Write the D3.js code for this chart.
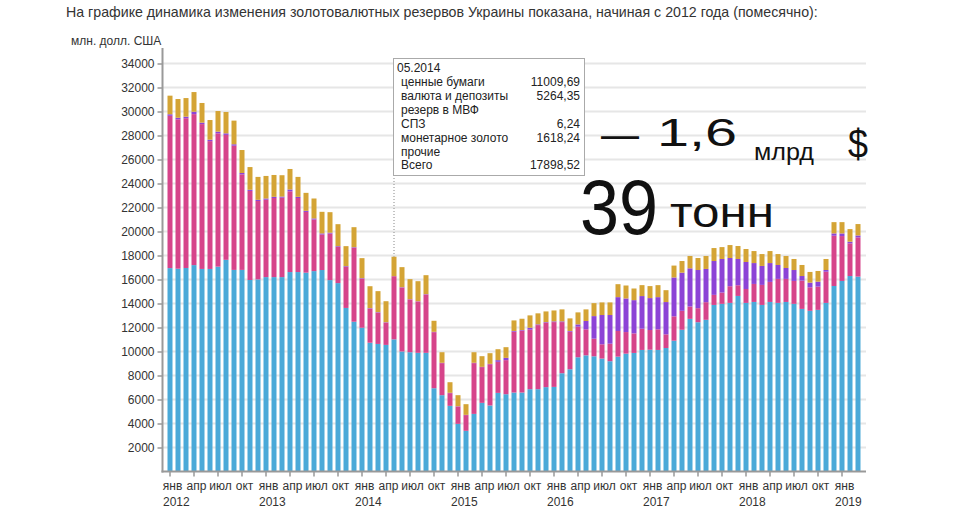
<!DOCTYPE html>
<html><head><meta charset="utf-8">
<script src="https://cdn.jsdelivr.net/npm/d3@7"></script>
<style>
body{margin:0;background:#fff}
svg{display:block}
text{font-family:"Liberation Sans",Arial,Helvetica,sans-serif}
</style>
</head><body>
<svg id="c" width="955" height="520"></svg>
<script>
// ---- data (млн. долл. США, помесячно) ----
const months = [
 "01.2012","02.2012","03.2012","04.2012","05.2012","06.2012","07.2012","08.2012","09.2012","10.2012","11.2012","12.2012",
 "01.2013","02.2013","03.2013","04.2013","05.2013","06.2013","07.2013","08.2013","09.2013","10.2013","11.2013","12.2013",
 "01.2014","02.2014","03.2014","04.2014","05.2014","06.2014","07.2014","08.2014","09.2014","10.2014","11.2014","12.2014",
 "01.2015","02.2015","03.2015","04.2015","05.2015","06.2015","07.2015","08.2015","09.2015","10.2015","11.2015","12.2015",
 "01.2016","02.2016","03.2016","04.2016","05.2016","06.2016","07.2016","08.2016","09.2016","10.2016","11.2016","12.2016",
 "01.2017","02.2017","03.2017","04.2017","05.2017","06.2017","07.2017","08.2017","09.2017","10.2017","11.2017","12.2017",
 "01.2018","02.2018","03.2018","04.2018","05.2018","06.2018","07.2018","08.2018","09.2018","10.2018","11.2018","12.2018",
 "01.2019","02.2019","03.2019"];
const securities = [
 16950,16900,16960,17200,16880,16880,17070,17640,16800,16800,15960,16010,
 16200,16200,16200,16620,16620,16570,16700,16790,15950,15700,13630,12480,
 11980,10730,10630,10550,11009.69,10000,9940,9890,9890,6940,6360,5470,
 3970,3390,4800,5720,5500,6550,6440,6580,6580,6860,6860,7030,
 7050,8190,8520,9520,9680,9600,9410,9190,9570,9820,9880,10130,
 10150,10130,10290,10900,11810,12720,12440,12640,13880,13970,14050,14630,
 14050,14130,13880,14130,14050,14130,13970,13550,13390,13470,14050,15460,
 15880,16290,16240];
const deposits = [
 12690,12450,12480,12580,12070,10650,11110,10410,10350,7960,7420,6530,
 6450,6590,6620,6730,6170,5060,4300,2960,3880,3020,3420,6160,
 4080,2840,2610,1860,5264.35,5330,4400,4280,4860,4670,2670,1060,
 1450,1310,4230,2980,3440,2590,2840,5070,5160,4960,5340,5370,
 5400,4260,3130,2550,2170,1470,1190,1460,2140,1800,1630,1770,
 1640,1720,1140,2030,1580,1030,1170,1470,840,940,1390,890,
 1160,1500,1670,1670,2000,1920,1910,2360,1960,1940,2600,4190,
 3740,2720,3270];
const sdr = [
 130,130,130,200,120,120,140,130,120,115,100,100,
 100,100,90,150,100,90,90,90,70,60,60,50,
 50,40,40,30,6.24,30,20,20,30,30,30,30,
 20,20,30,20,30,140,190,60,50,160,60,50,
 60,60,60,190,690,1880,2440,2390,2820,2800,2770,2720,
 2660,2680,2690,3240,3180,3180,3180,2770,2820,2800,2350,2190,
 2250,1740,1580,1570,1160,910,910,380,390,410,140,190,
 220,140,160];
const gold = [
 1550,1560,1550,1640,1640,1640,1720,1780,1970,1915,1890,1910,
 1880,1820,1780,1710,1660,1500,1660,1800,1710,1830,1670,1670,
 1670,1830,1750,1750,1618.24,1670,1670,1670,1580,920,880,880,
 920,890,880,890,890,910,890,880,940,1030,920,890,
 910,1000,1050,1000,970,1080,1050,1050,1080,1080,970,910,
 1000,1000,990,990,970,1030,1000,1080,1080,990,1080,1080,
 1080,1000,990,1000,910,1000,920,920,890,890,920,940,
 940,1050,950];

const seriesKeys = ["securities","deposits","sdr","gold"];
const seriesColors = ["#4aa9d8","#d6448a","#8c43d6","#d4a435"];
const yTicks = [2000,4000,6000,8000,10000,12000,14000,16000,18000,20000,22000,24000,26000,28000,30000,32000,34000];
const monthTickLabels = {"01":"янв","04":"апр","07":"июл","10":"окт"};
const yearLabels = ["2012","2013","2014","2015","2016","2017","2018","2019"];
const titleText = "На графике динамика изменения золотовалютных резервов Украины показана, начиная с 2012 года (помесячно):";
const unitText = "млн. долл. США";
const tooltipMonth = "05.2014";
const tooltipRows = ["ценные бумаги","валюта и депозиты","резерв в МВФ","СПЗ","монетарное золото","прочие","Всего"];
const tooltipKeys = ["securities","deposits",null,"sdr","gold",null,"total"];

// ---- build ----
const rows = months.map((m,i)=>({month:m,securities:securities[i],deposits:deposits[i],sdr:sdr[i],gold:gold[i]}));
rows.forEach(r=>{r.total=r.securities+r.deposits+r.sdr+r.gold;});

const svg = d3.select("#c");
svg.append("rect").attr("width",955).attr("height",520).attr("fill","#fff");

const x = d3.scaleBand().domain(months).range([166,862]).paddingInner(0.375).paddingOuter(0.1875);
const y = d3.scaleLinear().domain([0,34000]).range([471.5,63.5]);

// title
svg.append("text").attr("x",66).attr("y",17).attr("font-size",14.2).attr("fill","#333").text(titleText);
svg.append("text").attr("x",71).attr("y",45).attr("font-size",12).attr("fill","#333").text(unitText);

// grid
svg.append("g").selectAll("line").data(yTicks).join("line")
  .attr("x1",163).attr("x2",866).attr("y1",d=>y(d)).attr("y2",d=>y(d))
  .attr("stroke","#e6e6e6").attr("stroke-width",2);

// bars
const stack = d3.stack().keys(seriesKeys)(rows);
svg.append("g").selectAll("g").data(stack).join("g")
  .attr("fill",(d,i)=>seriesColors[i])
  .selectAll("rect").data(d=>d).join("rect")
  .attr("x",d=>x(d.data.month)).attr("width",x.bandwidth())
  .attr("y",d=>y(d[1])).attr("height",d=>y(d[0])-y(d[1]));

// y axis
const yAxis = svg.append("g").attr("transform","translate(162.5,0)")
  .call(d3.axisLeft(y).tickValues(yTicks).tickSize(5).tickPadding(3).tickFormat(d3.format("d")));
yAxis.select(".domain").remove();
yAxis.selectAll(".tick line").attr("stroke","#999").attr("stroke-width",1.5);
yAxis.selectAll("text").attr("font-size",12).attr("fill","#333").attr("font-family","Liberation Sans, Arial, sans-serif");
svg.append("line").attr("x1",162.5).attr("x2",162.5).attr("y1",48).attr("y2",472.5).attr("stroke","#999").attr("stroke-width",2);

// x axis
const quarterMonths = months.filter(m=>monthTickLabels[m.slice(0,2)]);
const xAxis = svg.append("g").attr("transform","translate(0,471.5)")
  .call(d3.axisBottom(x).tickValues(quarterMonths).tickSize(5).tickFormat(""));
xAxis.select(".domain").remove();
xAxis.selectAll(".tick line").attr("stroke","#999").attr("stroke-width",1.5);
svg.append("line").attr("x1",161.5).attr("x2",866).attr("y1",471.5).attr("y2",471.5).attr("stroke","#999").attr("stroke-width",2);

const cx = m=>x(m)+x.bandwidth()/2;
svg.append("g").selectAll("text").data(quarterMonths).join("text")
  .attr("x",d=>cx(d)+2.5).attr("y",490).attr("text-anchor","middle")
  .attr("font-size",12).attr("fill","#333").text(d=>monthTickLabels[d.slice(0,2)]);
svg.append("g").selectAll("text").data(yearLabels).join("text")
  .attr("x",d=>cx("01."+d)-7).attr("y",506).attr("text-anchor","start")
  .attr("font-size",12).attr("fill","#333").text(d=>d);

// tooltip (static, as in picture)
const tRow = rows.find(r=>r.month===tooltipMonth);
const tx = cx(tooltipMonth);
svg.append("line").attr("x1",tx).attr("x2",tx).attr("y1",175).attr("y2",y(tRow.total))
  .attr("stroke","#888").attr("stroke-width",1).attr("stroke-dasharray","1,2");
const tip = svg.append("g");
tip.append("rect").attr("x",393.5).attr("y",58.5).attr("width",191).attr("height",117)
  .attr("fill","#fff").attr("stroke","#aaa").attr("stroke-width",1);
tip.append("text").attr("x",397).attr("y",72).attr("font-size",12).attr("fill","#222").text(tooltipMonth);
const fmt = v=>d3.format(".2f")(v).replace(".",",");
tooltipRows.forEach((lab,i)=>{
  const yy = 86+i*13.9;
  tip.append("text").attr("x",401).attr("y",yy).attr("font-size",12).attr("fill","#222").text(lab);
  const k = tooltipKeys[i];
  if(k) tip.append("text").attr("x",580).attr("y",yy).attr("text-anchor","end")
    .attr("font-size",12).attr("fill","#222").text(fmt(tRow[k]));
});

// handwritten notes
const hw = svg.append("g").attr("fill","#111").attr("font-family","DejaVu Sans, sans-serif");
const note = (t,xx,yy,fs,len)=>hw.append("text").attr("x",xx).attr("y",yy).attr("font-size",fs)
  .attr("textLength",len).attr("lengthAdjust","spacingAndGlyphs").text(t);
note("—",601,148,40,38);
note("1,6",657,146,38,80);
note("млрд",754,160,24,60);
note("$",848,158,40,20);
note("39",580,234,78,78);
note("тонн",670,227,42,104);
</script>
</body></html>
